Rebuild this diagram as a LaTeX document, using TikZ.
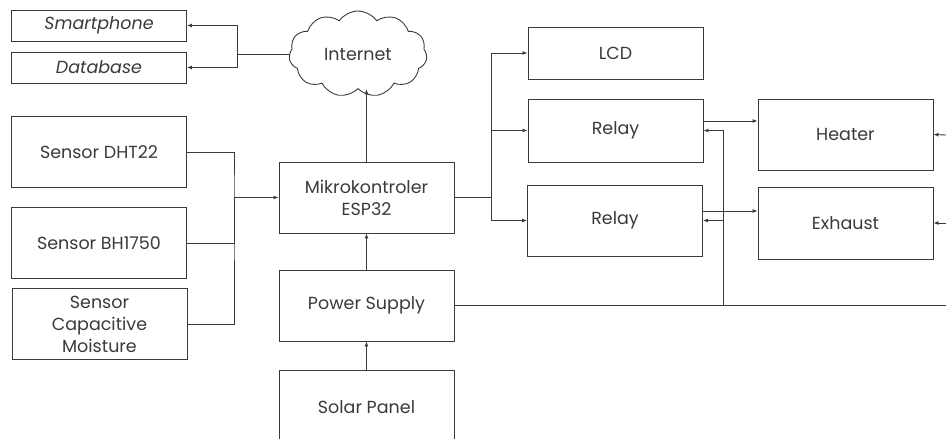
\documentclass[tikz,border=0pt]{standalone}
\usepackage{fontspec}
\setmainfont{Poppins}
\usepackage{tikz}
\usetikzlibrary{arrows.meta,positioning,shapes.symbols}
\definecolor{wiregray}{HTML}{3A3A3A}

\begin{document}
\begin{tikzpicture}[
  x=1pt, y=-1pt,
  box/.style={draw=wiregray,line width=0.9pt,minimum width=175pt,minimum height=71pt,align=center,
    text=wiregray,font=\fontsize{17.5}{22}\selectfont,inner sep=0pt},
  thinbox/.style={box,minimum height=31pt},
  arr/.style={-{Latex[length=5pt,width=4pt]},draw=wiregray,line width=0.9pt},
  wire/.style={draw=wiregray,line width=0.9pt}
]
\useasboundingbox (0,0) rectangle (946,439);
% cloud side
\node[thinbox] (smart) at (99,25.5) {\itshape Smartphone};
\node[thinbox] (dbase) at (99,67.5) {\itshape Database};
\node[cloud,draw=wiregray,line width=0.9pt,cloud puffs=11,cloud puff arc=110,cloud ignores aspect,
  minimum width=138pt,minimum height=86pt,inner sep=0pt,text=wiregray,
  font=\fontsize{17.5}{22}\selectfont] (inet) at (358,54) {Internet};
\node[box,minimum height=52pt] (lcd) at (615.5,53) {LCD};
% sensors
\node[box] (dht) at (99,152) {Sensor DHT22};
\node[box] (bh) at (99,243) {Sensor BH1750};
\node[box] (capm) at (99.5,324) {Sensor\\Capacitive\\Moisture};
% core
\node[box] (mcu) at (366.5,197.5) {Mikrokontroler\\ESP32};
\node[box] (psu) at (366.5,305.5) {Power Supply};
\node[box,minimum height=74pt] (solar) at (366.5,407) {Solar Panel};
% actuators
\node[box,minimum height=63pt] (relayA) at (615.5,130.5) {Relay};
\node[box] (relayB) at (615,220.5) {Relay};
\node[box] (heater) at (845.5,134.5) {Heater};
\node[box,minimum height=72pt] (exhaust) at (845.5,223) {Exhaust};

\coordinate (sbus) at (234,197.5);
\coordinate (obus) at (491,197.5);
\coordinate (ptap) at (723,305.5);
\coordinate (pend) at (946,305.5);
\coordinate (hin) at (946,135);
\coordinate (ein) at (946,223);

\draw[arr] (inet.west) -- ++(-52,0) coordinate (ibus) |- (smart.east);
\draw[arr] (ibus) |- (dbase.east);
\draw[arr] (mcu.north) -- (mcu.north |- inet.south);

\draw[wire] (dht.east) -| (sbus) |- (capm.east);
\draw[wire] (bh.east) -| (sbus);
\draw[arr] (sbus) -- (mcu.west);

\draw[wire] (mcu.east) -- (obus);
\draw[arr] (obus) |- (lcd.west);
\draw[arr] (obus) |- (relayA.west);
\draw[arr] (obus) |- (relayB.west);

\draw[arr] ([yshift=9.5pt]relayA.east) -- ([yshift=9.5pt]relayA.east -| heater.west);
\draw[arr] ([yshift=9.5pt]relayB.east) -- ([yshift=9.5pt]relayB.east -| exhaust.west);

\draw[wire] (psu.east) -- (pend);
\draw[arr] (ptap) |- (relayA.east);
\draw[arr] (ptap) |- (relayB.east);
\draw[arr] (hin) -- (heater.east);
\draw[arr] (ein) -- (exhaust.east);

\draw[arr] (psu.north) -- (mcu.south);
\draw[arr] (solar.north) -- (psu.south);
\end{tikzpicture}
\end{document}
